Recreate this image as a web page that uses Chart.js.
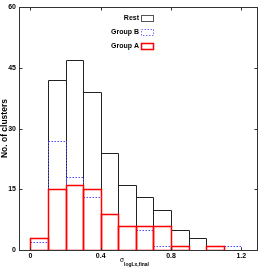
<!DOCTYPE html>
<html><head><meta charset="utf-8">
<style>html,body{margin:0;padding:0;background:#fff;}#wrap{width:266px;height:273px;position:relative;}</style>
<script src="https://cdn.jsdelivr.net/npm/chart.js@4/dist/chart.umd.min.js"></script>
</head><body><div id="wrap"><canvas id="c" width="266" height="273"></canvas></div>
<script>
const binCenters   = [0.05, 0.15, 0.25, 0.35, 0.45, 0.55, 0.65, 0.75, 0.85, 0.95, 1.05, 1.15];
const restCounts   = [3, 42, 47, 39, 24, 16, 13, 10, 5, 3, 1, null];
const groupBCounts = [2, 27, 18, 13, 9, 6, 5, 1, 1, null, 1, 1];
const groupACounts = [3, 15, 16, 15, 9, 6, 6, 6, 1, null, 1, null];
const yTicks = [0, 15, 30, 45, 60];
const xTicks = [0, 0.4, 0.8, 1.2];
const xTickLabels = ['0', '0.4', '0.8', '1.2'];
const seriesLabels = ['Rest', 'Group B', 'Group A'];

const FONT = "'Liberation Sans', Arial, sans-serif";
const pts = arr => binCenters.map((x, i) => ({x: x, y: arr[i]}));
const NONE = 'rgba(0,0,0,0)';

const histPlugin = {
  id: 'hist',
  afterDatasetsDraw(chart) {
    const ctx = chart.ctx, a = chart.chartArea;
    ctx.save();
    ctx.beginPath(); ctx.rect(a.left, a.top - 1, a.right - a.left, a.bottom - a.top + 1); ctx.clip();
    chart.data.datasets.forEach((ds, i) => {
      const meta = chart.getDatasetMeta(i);
      ctx.strokeStyle = ds.lineColor; ctx.lineWidth = ds.lineW; ctx.setLineDash(ds.dash || []);
      meta.data.forEach((el, j) => {
        if (ds.data[j].y == null) return;
        const p = el.getProps(['x', 'y', 'base', 'width'], true);
        const x0 = Math.round(p.x - p.width / 2) + 0.5, x1 = Math.round(p.x + p.width / 2) + 0.5;
        const y0 = Math.round(p.y) + 0.5, y1 = Math.round(p.base) + 0.5;
        ctx.beginPath(); ctx.rect(x0, y0, x1 - x0, y1 - y0); ctx.stroke();
      });
    });
    ctx.restore();
    // frame and inward ticks
    ctx.save();
    ctx.strokeStyle = '#333'; ctx.lineWidth = 1; ctx.setLineDash([]);
    const L = Math.round(a.left) + 0.5, R = Math.round(a.right) - 0.5, T = Math.round(a.top) + 0.5, B = Math.round(a.bottom) + 0.5;
    ctx.strokeRect(L, T, R - L, B - T);
    const xs = chart.scales.x, ys = chart.scales.y;
    ctx.beginPath();
    xTicks.forEach(v => { const px = Math.round(xs.getPixelForValue(v)) + 0.5; ctx.moveTo(px, B); ctx.lineTo(px, B - 3); ctx.moveTo(px, T); ctx.lineTo(px, T + 3); });
    yTicks.forEach(v => { if (v === 0 || v === 60) return; const py = Math.round(ys.getPixelForValue(v)) + 0.5; ctx.moveTo(L, py); ctx.lineTo(L + 3, py); ctx.moveTo(R, py); ctx.lineTo(R - 3, py); });
    ctx.stroke();
    // legend
    ctx.font = 'bold 7px ' + FONT; ctx.fillStyle = '#000'; ctx.textAlign = 'right'; ctx.textBaseline = 'middle';
    chart.data.datasets.forEach((ds, k) => {
      const cy = a.top + 11 + 13.8 * k;
      ctx.fillText(ds.label, a.right - 119, cy);
      ctx.strokeStyle = ds.legendColor || ds.lineColor; ctx.lineWidth = ds.lineW; ctx.setLineDash(ds.dash || []);
      ctx.strokeRect(a.right - 116.5, Math.round(cy - 3) + 0.5, 12, 6);
    });
    ctx.setLineDash([]);
    // x axis title: sigma with subscript
    const cx = (a.left + a.right) / 2 - 4;
    ctx.textAlign = 'left'; ctx.textBaseline = 'alphabetic'; ctx.fillStyle = '#000';
    ctx.font = '6.5px ' + FONT; const s1 = 'σ', w1 = ctx.measureText(s1).width;
    ctx.font = 'bold 5px ' + FONT; const s2 = 'logLx,final', w2 = ctx.measureText(s2).width;
    const x0 = cx - (w1 + w2) / 2;
    ctx.font = '6.5px ' + FONT; ctx.fillText(s1, x0, a.bottom + 11.5);
    ctx.font = 'bold 5px ' + FONT; ctx.fillText(s2, x0 + w1, a.bottom + 15.5);
    ctx.restore();
  }
};

new Chart(document.getElementById('c'), {
  type: 'bar',
  data: {
    datasets: [
      {label: seriesLabels[0], data: pts(restCounts), lineColor: '#222', legendColor: '#555', lineW: 1, backgroundColor: NONE, borderColor: NONE, borderWidth: 0},
      {label: seriesLabels[1], data: pts(groupBCounts), lineColor: '#5050ff', legendColor: '#7070ff', lineW: 1, dash: [1.5, 1.5], backgroundColor: NONE, borderColor: NONE, borderWidth: 0},
      {label: seriesLabels[2], data: pts(groupACounts), lineColor: '#ff0000', lineW: 1.5, backgroundColor: NONE, borderColor: NONE, borderWidth: 0}
    ]
  },
  options: {
    responsive: false, animation: false, devicePixelRatio: 1,
    layout: {padding: {top: 6, right: 8, left: 0, bottom: 0}},
    datasets: {bar: {grouped: false, barPercentage: 1, categoryPercentage: 1}},
    plugins: {legend: {display: false}, tooltip: {enabled: false}, colors: {enabled: false}},
    scales: {
      x: {
        type: 'linear', min: -0.065, max: 1.295, offset: false,
        grid: {display: false, drawTicks: false}, border: {display: false},
        afterBuildTicks: s => { s.ticks = xTicks.map(v => ({value: v})); },
        afterFit: s => { s.height = 23; },
        ticks: {autoSkip: false, maxRotation: 0, padding: 2, color: '#000', font: {family: FONT, size: 7, weight: 'bold'},
          callback: (v) => { const i = xTicks.findIndex(t => Math.abs(t - v) < 1e-9); return i >= 0 ? xTickLabels[i] : ''; }}
      },
      y: {
        min: 0, max: 60,
        grid: {display: false, drawTicks: false}, border: {display: false},
        afterBuildTicks: s => { s.ticks = yTicks.map(v => ({value: v})); },
        afterFit: s => { s.width = 19; },
        ticks: {padding: 3, color: '#000', font: {family: FONT, size: 7, weight: 'bold'}},
        title: {display: true, text: 'No. of clusters', color: '#000', padding: 0, font: {family: FONT, size: 8.5, weight: 'bold'}}
      }
    }
  },
  plugins: [histPlugin]
});
</script></body></html>
